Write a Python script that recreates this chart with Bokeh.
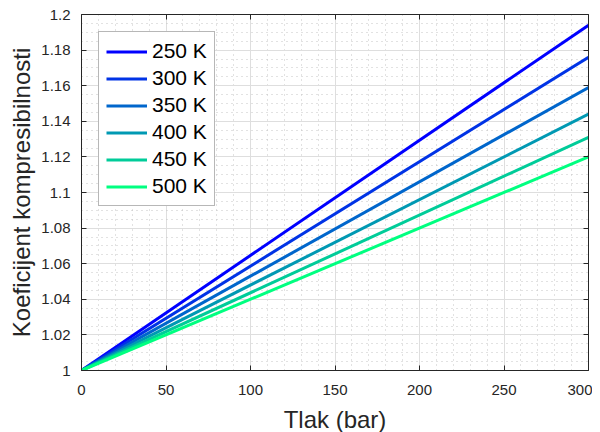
from bokeh.plotting import figure
from bokeh.models import LinearAxis, FixedTicker, Range1d, Legend, LegendItem
from bokeh.embed import file_html
from bokeh.resources import INLINE

# Data
pressure = [0, 300]
temperatures = ["250 K", "300 K", "350 K", "400 K", "450 K", "500 K"]
z_250 = [1.0, 1.194]
z_300 = [1.0, 1.176]
z_350 = [1.0, 1.159]
z_400 = [1.0, 1.144]
z_450 = [1.0, 1.131]
z_500 = [1.0, 1.120]
series = [z_250, z_300, z_350, z_400, z_450, z_500]
colors = ["#0000FF", "#0033E6", "#0066CC", "#0099B3", "#00CC99", "#00FF80"]

x_ticks = [0, 50, 100, 150, 200, 250, 300]
x_minor = list(range(0, 301, 10))
y_ticks = [1.0, 1.02, 1.04, 1.06, 1.08, 1.1, 1.12, 1.14, 1.16, 1.18, 1.2]
y_tick_labels = ["1", "1.02", "1.04", "1.06", "1.08", "1.1", "1.12", "1.14", "1.16", "1.18", "1.2"]
y_minor = [round(1.0 + 0.005 * i, 3) for i in range(41)]

FONT = "Liberation Sans"
AX = "#262626"

p = figure(frame_width=507, frame_height=356, output_backend="svg", toolbar_location=None,
           x_range=Range1d(0, 300), y_range=Range1d(1.0, 1.2),
           min_border_left=81, min_border_right=4, min_border_top=14, min_border_bottom=46)
p.outline_line_color = None
p.background_fill_color = "white"

xt = FixedTicker(ticks=x_ticks, minor_ticks=x_minor)
yt = FixedTicker(ticks=y_ticks, minor_ticks=y_minor)

def style_axis(ax, labels=True):
    ax.axis_line_color = AX
    ax.axis_line_width = 1
    ax.major_tick_line_color = AX
    ax.major_tick_in = 5
    ax.major_tick_out = 0
    ax.minor_tick_line_color = None
    if labels:
        ax.major_label_text_font = FONT
        ax.major_label_text_font_size = "15px"
        ax.major_label_text_color = AX
        ax.major_label_standoff = 7
        ax.axis_label_text_font = FONT
        ax.axis_label_text_font_size = "24px"
        ax.axis_label_text_font_style = "normal"
        ax.axis_label_text_color = AX
    else:
        ax.major_label_standoff = 0

p.xaxis.ticker = xt
p.yaxis.ticker = yt
p.yaxis.major_label_overrides = {t: l for t, l in zip(y_ticks, y_tick_labels)}
p.xaxis.axis_label = "Tlak (bar)"
p.yaxis.axis_label = "Koeficijent kompresibilnosti"
style_axis(p.xaxis[0])
style_axis(p.yaxis[0])
p.xaxis.major_label_standoff = 10
p.xaxis.axis_label_standoff = 8
p.yaxis.axis_label_standoff = 3

top = LinearAxis(ticker=FixedTicker(ticks=x_ticks))
top.major_label_overrides = {t: "" for t in x_ticks}
right = LinearAxis(ticker=FixedTicker(ticks=y_ticks))
right.major_label_overrides = {t: "" for t in y_ticks}
style_axis(top, labels=False)
style_axis(right, labels=False)
p.add_layout(top, "above")
p.add_layout(right, "right")

for g in (p.xgrid[0], p.ygrid[0]):
    g.grid_line_color = "#dedede"
    g.grid_line_width = 1
    g.minor_grid_line_color = "#c4c4c4"
    g.minor_grid_line_dash = "1 4"
    g.minor_grid_line_width = 1
p.xgrid.ticker = xt
p.ygrid.ticker = yt

items = []
for name, ys, c in zip(temperatures, series, colors):
    r = p.line(pressure, ys, line_color=c, line_width=3)
    items.append(LegendItem(label=name, renderers=[r]))

legend = Legend(items=items, location="top_left", margin=17)
legend.label_text_font = FONT
legend.label_text_font_size = "21px"
legend.label_text_color = "black"
legend.glyph_width = 41
legend.glyph_height = 21
legend.label_height = 21
legend.spacing = 3
legend.padding = 7
legend.label_standoff = 5
legend.border_line_color = "#707070"
legend.border_line_width = 1
legend.background_fill_alpha = 1.0
p.add_layout(legend, "center")

open("out.html", "w").write(file_html(p, INLINE))
